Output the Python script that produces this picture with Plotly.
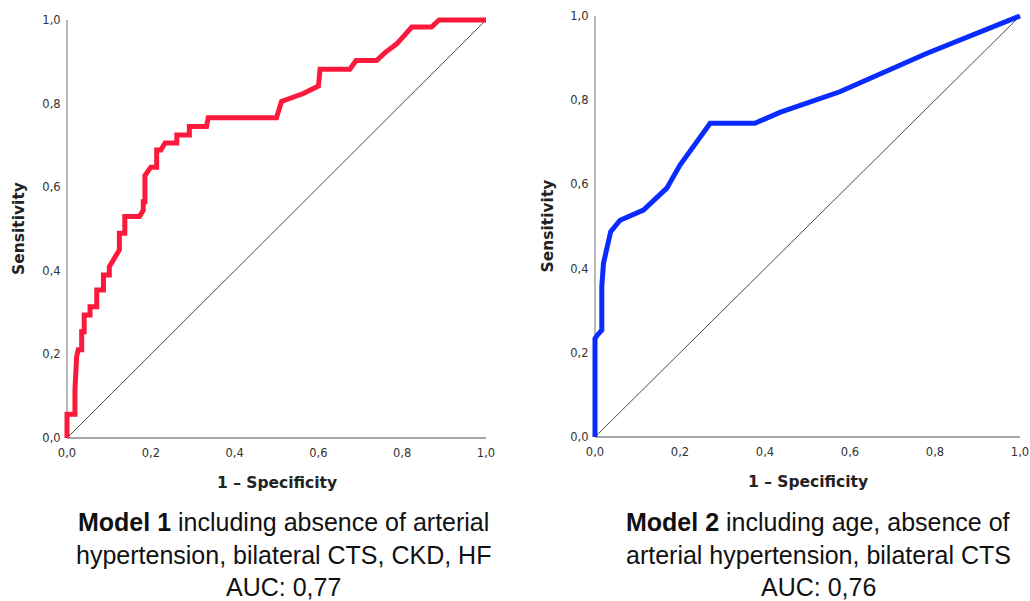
import plotly.graph_objects as go

W, H = 1030, 601

# ---------------- data ----------------
m1_fpr = [0.0, 0.0, 0.019, 0.019, 0.023, 0.027, 0.035, 0.035, 0.041, 0.041, 0.055, 0.055,
          0.071, 0.071, 0.087, 0.087, 0.101, 0.101, 0.125, 0.125, 0.138, 0.138, 0.173, 0.182,
          0.182, 0.186, 0.186, 0.200, 0.214, 0.214, 0.224, 0.234, 0.262, 0.262, 0.292, 0.292,
          0.333, 0.337, 0.500, 0.512, 0.564, 0.600, 0.604, 0.675, 0.690, 0.739, 0.759, 0.787,
          0.823, 0.870, 0.888, 1.0]
m1_tpr = [0.0, 0.057, 0.057, 0.115, 0.195, 0.211, 0.211, 0.254, 0.254, 0.294, 0.294, 0.314,
          0.314, 0.354, 0.354, 0.390, 0.390, 0.410, 0.450, 0.490, 0.490, 0.530, 0.530, 0.545,
          0.565, 0.565, 0.628, 0.648, 0.648, 0.689, 0.689, 0.706, 0.706, 0.725, 0.725, 0.745,
          0.745, 0.766, 0.766, 0.805, 0.824, 0.842, 0.882, 0.882, 0.903, 0.903, 0.922, 0.943,
          0.983, 0.983, 1.0, 1.0]

m2_fpr = [0.0, 0.0, 0.004, 0.016, 0.016, 0.020, 0.037, 0.059, 0.114, 0.169, 0.200, 0.271,
          0.376, 0.435, 0.576, 0.680, 0.780, 1.0]
m2_tpr = [0.0, 0.234, 0.240, 0.254, 0.357, 0.413, 0.488, 0.515, 0.539, 0.591, 0.646, 0.745,
          0.745, 0.771, 0.820, 0.866, 0.911, 1.0]

ref_x = [0.0, 1.0]
ref_y = [0.0, 1.0]

tick_vals = [0.0, 0.2, 0.4, 0.6, 0.8, 1.0]
tick_text = ["0,0", "0,2", "0,4", "0,6", "0,8", "1,0"]

x_title = "1 \u2013 Specificity"
y_title = "Sensitivity"
captions = [
    ["<b>Model 1</b> including absence of arterial",
     "hypertension, bilateral CTS, CKD, HF",
     "AUC: 0,77"],
    ["<b>Model 2</b> including age, absence of",
     "arterial hypertension, bilateral CTS",
     "AUC: 0,76"],
]

# ---------------- layout helpers ----------------
PAD = 0.008


def xdom(p0, p1):
    s = p1 - p0
    return [(p0 - PAD * s) / W, (p1 + PAD * s) / W]


def ydom(p0, p1):
    s = p0 - p1
    return [1 - (p0 + PAD * s) / H, 1 - (p1 - PAD * s) / H]


panels = [
    dict(x0=67, x1=486, y0=438, y1=20, color="#fb1a3c", fpr=m1_fpr, tpr=m1_tpr,
         ytx=19, xtx=277, xty=483, capx=283),
    dict(x0=595, x1=1020, y0=437, y1=16, color="#0a2bff", fpr=m2_fpr, tpr=m2_tpr,
         ytx=547, xtx=808, xty=482, capx=818),
]

fig = go.Figure()
annotations = []
shapes = []
layout_axes = {}

for i, p in enumerate(panels):
    n = "" if i == 0 else str(i + 1)
    xa, ya = "x" + n, "y" + n
    fig.add_trace(go.Scatter(x=ref_x, y=ref_y, mode="lines", xaxis=xa, yaxis=ya,
                             line=dict(color="#4a4a4a", width=1), showlegend=False,
                             hoverinfo="skip"))
    fig.add_trace(go.Scatter(x=p["fpr"], y=p["tpr"], mode="lines", xaxis=xa, yaxis=ya,
                             line=dict(color=p["color"], width=5, shape="linear"),
                             showlegend=False))
    common = dict(range=[-PAD, 1 + PAD], showgrid=False, zeroline=False, showline=False,
                  tickmode="array", tickvals=tick_vals, ticktext=tick_text, ticks="",
                  tickfont=dict(family="DejaVu Sans", size=11.5, color="#333333"),
                  fixedrange=True, automargin=False)
    layout_axes["xaxis" + n] = dict(common, domain=xdom(p["x0"], p["x1"]), anchor=ya,
                                    ticklabelstandoff=3)
    layout_axes["yaxis" + n] = dict(common, domain=ydom(p["y0"], p["y1"]), anchor=xa,
                                    ticklabelstandoff=2)
    # axis lines
    shapes.append(dict(type="line", xref=xa, yref=ya, x0=0, y0=0, x1=0, y1=1,
                       line=dict(color="#a0a0a0", width=1.5), layer="below"))
    shapes.append(dict(type="line", xref=xa, yref=ya, x0=0, y0=0, x1=1, y1=0,
                       line=dict(color="#a8a8a8", width=2), layer="below"))
    # axis titles
    annotations.append(dict(text="<b>" + y_title + "</b>", x=p["ytx"] / W,
                            y=1 - ((p["y0"] + p["y1"]) / 2) / H, xref="paper", yref="paper",
                            textangle=-90, showarrow=False, xanchor="center", yanchor="middle",
                            font=dict(family="DejaVu Sans", size=15.5, color="#222222")))
    annotations.append(dict(text="<b>" + x_title + "</b>", x=p["xtx"] / W,
                            y=1 - p["xty"] / H, xref="paper", yref="paper",
                            showarrow=False, xanchor="center", yanchor="middle",
                            font=dict(family="DejaVu Sans", size=15.5, color="#222222")))
    for j, line in enumerate(captions[i]):
        annotations.append(dict(text=line, x=p["capx"] / W, y=1 - (522 + 32.5 * j) / H,
                                xref="paper", yref="paper", showarrow=False,
                                xanchor="center", yanchor="middle",
                                font=dict(family="Liberation Sans", size=25, color="#111111")))

fig.update_layout(width=W, height=H, margin=dict(l=0, r=0, t=0, b=0, autoexpand=False),
                  paper_bgcolor="white", plot_bgcolor="white",
                  annotations=annotations, shapes=shapes, **layout_axes)

fig.write_html("out.html", config={"displayModeBar": False},
               post_script="document.body.style.margin='0px';")
